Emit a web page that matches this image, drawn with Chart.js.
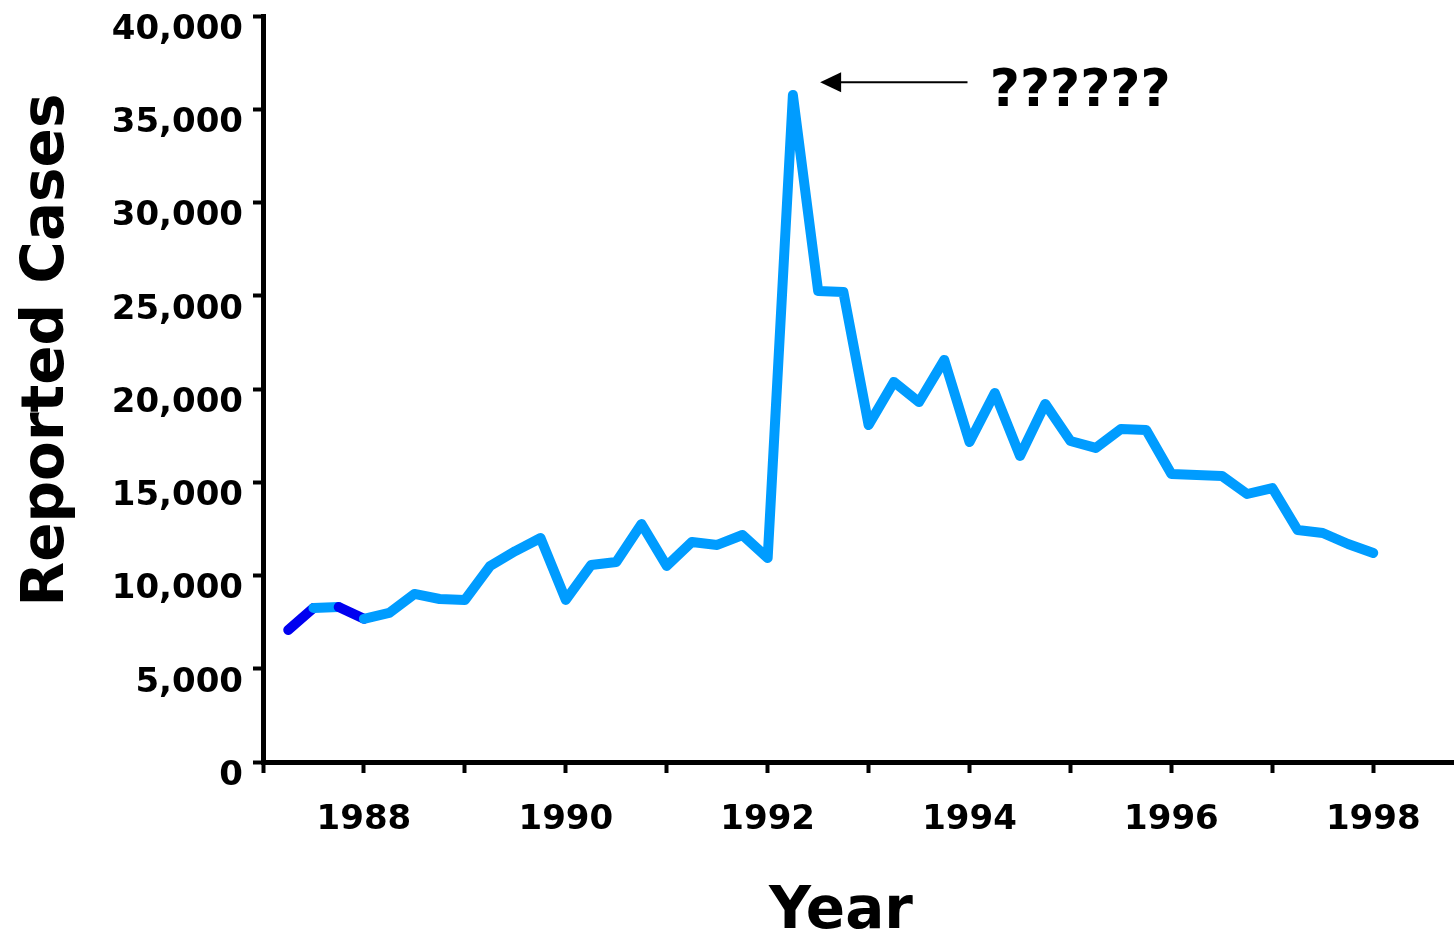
<!DOCTYPE html>
<html>
<head>
<meta charset="utf-8">
<script src="https://cdn.jsdelivr.net/npm/chart.js@4"></script>
<style>
  html, body { margin: 0; padding: 0; background: #fff; overflow: hidden; }
</style>
</head>
<body>
<canvas id="casesChart" width="1454" height="934"></canvas>
<script>
// quarterly points (decimal year) and reported cases
const quarters = [
  1987.25, 1987.5, 1987.75, 1988.0, 1988.25, 1988.5, 1988.75, 1989.0,
  1989.25, 1989.5, 1989.75, 1990.0, 1990.25, 1990.5, 1990.75, 1991.0,
  1991.25, 1991.5, 1991.75, 1992.0, 1992.25, 1992.5, 1992.75, 1993.0,
  1993.25, 1993.5, 1993.75, 1994.0, 1994.25, 1994.5, 1994.75, 1995.0,
  1995.25, 1995.5, 1995.75, 1996.0, 1996.25, 1996.5, 1996.75, 1997.0,
  1997.25, 1997.5, 1997.75, 1998.0
];
const cases = [
  7080, 8260, 8310, 7680, 7990, 9010, 8740, 8690,
  10510, 11310, 12010, 8690, 10560, 10720, 12760, 10510,
  11800, 11640, 12170, 10940, 35760, 25260, 25200, 18070,
  20380, 19300, 21560, 17160, 19790, 16410, 19200, 17210,
  16840, 17860, 17800, 15440, 15390, 15340, 14370, 14690,
  12440, 12280, 11690, 11210
];
// segments drawn in the darker blue (index of starting point)
const darkSegments = [0, 2];
const yTicks = [0, 5000, 10000, 15000, 20000, 25000, 30000, 35000, 40000];
const labelYears = [1988, 1990, 1992, 1994, 1996, 1998];

const annotation = { text: '??????', tipX: 1992.52, tailX: 1993.98, textX: 1994.2, y: 36450 };

const FONT = '"DejaVu Sans", Verdana, sans-serif';

const extrasPlugin = {
  id: 'extras',
  afterDraw(chart) {
    const { ctx, scales } = chart;
    const xs = scales.x, ys = scales.y;
    ctx.save();
    // arrow pointing at the peak
    const y = ys.getPixelForValue(annotation.y);
    const tip = xs.getPixelForValue(annotation.tipX);
    const tail = xs.getPixelForValue(annotation.tailX);
    ctx.strokeStyle = '#000';
    ctx.fillStyle = '#000';
    ctx.lineWidth = 2;
    ctx.beginPath();
    ctx.moveTo(tail, y);
    ctx.lineTo(tip + 18, y);
    ctx.stroke();
    ctx.beginPath();
    ctx.moveTo(tip, y);
    ctx.lineTo(tip + 21, y - 10);
    ctx.lineTo(tip + 21, y + 10);
    ctx.closePath();
    ctx.fill();
    ctx.font = 'bold 52px ' + FONT;
    ctx.textBaseline = 'middle';
    ctx.textAlign = 'left';
    ctx.fillText(annotation.text, xs.getPixelForValue(annotation.textX), y + 10);

    // axis titles
    ctx.font = 'bold 58px ' + FONT;
    ctx.textAlign = 'center';
    ctx.textBaseline = 'alphabetic';
    ctx.fillText('Year', 841, 928);
    ctx.translate(63, 350);
    ctx.rotate(-Math.PI / 2);
    ctx.fillText('Reported Cases', 0, 0);
    ctx.restore();
  }
};

const noPad = s => { s.paddingTop = 0; s.paddingBottom = 0; s.paddingLeft = 0; s.paddingRight = 0; };

new Chart(document.getElementById('casesChart'), {
  type: 'line',
  data: {
    datasets: [{
      data: quarters.map((q, i) => ({ x: q, y: cases[i] })),
      borderColor: '#009CFF',
      borderWidth: 10,
      borderCapStyle: 'round',
      borderJoinStyle: 'round',
      pointRadius: 0,
      tension: 0,
      fill: false,
      segment: {
        borderColor: c => darkSegments.includes(c.p0DataIndex) ? '#0000F0' : '#009CFF'
      }
    }]
  },
  options: {
    responsive: false,
    animation: false,
    devicePixelRatio: 1,
    layout: { padding: { top: 16, right: 0, left: 0, bottom: 0 } },
    plugins: { legend: { display: false }, tooltip: { enabled: false } },
    scales: {
      x: {
        type: 'linear',
        min: 1987,
        max: 1998.8,
        afterFit: s => { s.height = 172; noPad(s); },
        afterBuildTicks: s => {
          s.ticks = [];
          for (let yr = 1987; yr <= 1998; yr++) s.ticks.push({ value: yr });
        },
        border: { display: true, color: '#000', width: 5 },
        grid: { drawOnChartArea: false, drawTicks: true, tickLength: 11, tickWidth: 4, tickColor: '#000' },
        ticks: {
          padding: 27,
          color: '#000',
          maxRotation: 0,
          autoSkip: false,
          font: { family: FONT, size: 34, weight: 'bold' },
          callback: v => labelYears.includes(v) ? String(v) : ''
        }
      },
      y: {
        min: 0,
        max: 40000,
        afterFit: s => { s.width = 263; noPad(s); },
        afterBuildTicks: s => { s.ticks = yTicks.map(v => ({ value: v })); },
        border: { display: true, color: '#000', width: 5 },
        grid: { drawOnChartArea: false, drawTicks: true, tickLength: 10, tickWidth: 4, tickColor: '#000' },
        ticks: {
          padding: 10,
          labelOffset: 14,
          color: '#000',
          font: { family: FONT, size: 34, weight: 'bold' },
          callback: v => v.toLocaleString('en-US')
        }
      }
    }
  },
  plugins: [extrasPlugin]
});
</script>
</body>
</html>
